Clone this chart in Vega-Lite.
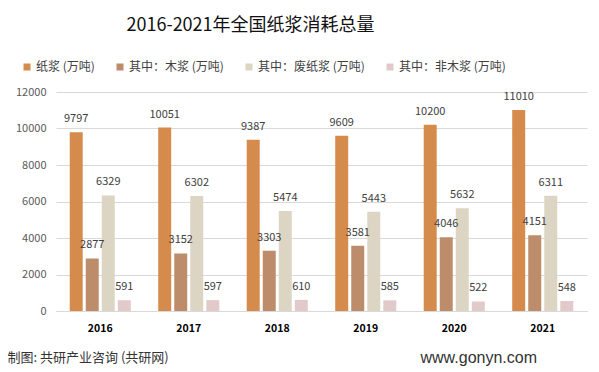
{
  "$schema": "https://vega.github.io/schema/vega-lite/v6.json",
  "autosize": {"type": "none"},
  "width": 531,
  "height": 219,
  "padding": {"left": 56, "top": 92, "right": 12, "bottom": 61},
  "background": "white",
  "title": {
    "text": "2016-2021年全国纸浆消耗总量",
    "anchor": "middle",
    "dx": -71,
    "offset": 26,
    "fontSize": 18,
    "fontWeight": "normal",
    "font": "Noto Sans CJK SC",
    "color": "#111111"
  },
  "config": {
    "view": {"stroke": null},
    "font": "Noto Sans CJK SC",
    "axis": {"labelFont": "Noto Sans CJK SC", "titleFont": "Noto Sans CJK SC"}
  },
  "data": {
    "values": [
      {"year": "2016", "series": "纸浆 (万吨)", "value": 9797},
      {"year": "2016", "series": "其中：木浆 (万吨)", "value": 2877},
      {"year": "2016", "series": "其中：废纸浆 (万吨)", "value": 6329},
      {"year": "2016", "series": "其中：非木浆 (万吨)", "value": 591},
      {"year": "2017", "series": "纸浆 (万吨)", "value": 10051},
      {"year": "2017", "series": "其中：木浆 (万吨)", "value": 3152},
      {"year": "2017", "series": "其中：废纸浆 (万吨)", "value": 6302},
      {"year": "2017", "series": "其中：非木浆 (万吨)", "value": 597},
      {"year": "2018", "series": "纸浆 (万吨)", "value": 9387},
      {"year": "2018", "series": "其中：木浆 (万吨)", "value": 3303},
      {"year": "2018", "series": "其中：废纸浆 (万吨)", "value": 5474},
      {"year": "2018", "series": "其中：非木浆 (万吨)", "value": 610},
      {"year": "2019", "series": "纸浆 (万吨)", "value": 9609},
      {"year": "2019", "series": "其中：木浆 (万吨)", "value": 3581},
      {"year": "2019", "series": "其中：废纸浆 (万吨)", "value": 5443},
      {"year": "2019", "series": "其中：非木浆 (万吨)", "value": 585},
      {"year": "2020", "series": "纸浆 (万吨)", "value": 10200},
      {"year": "2020", "series": "其中：木浆 (万吨)", "value": 4046},
      {"year": "2020", "series": "其中：废纸浆 (万吨)", "value": 5632},
      {"year": "2020", "series": "其中：非木浆 (万吨)", "value": 522},
      {"year": "2021", "series": "纸浆 (万吨)", "value": 11010},
      {"year": "2021", "series": "其中：木浆 (万吨)", "value": 4151},
      {"year": "2021", "series": "其中：废纸浆 (万吨)", "value": 6311},
      {"year": "2021", "series": "其中：非木浆 (万吨)", "value": 548}
    ]
  },
  "encoding": {
    "x": {
      "field": "year",
      "type": "nominal",
      "scale": {"paddingInner": 0.31, "paddingOuter": 0.155},
      "axis": {
        "title": "制图: 共研产业咨询 (共研网)",
        "titleX": -49,
        "titleY": 46,
        "titleAlign": "left",
        "titleAnchor": "start",
        "titleBaseline": "middle",
        "titleFontSize": 13,
        "titleFontWeight": "normal",
        "titleColor": "#333333",
        "labelAngle": 0,
        "labelFontSize": 10.5,
        "labelFontWeight": "bold",
        "labelColor": "#000000",
        "labelPadding": 12,
        "ticks": false,
        "domainColor": "#D9D9D9"
      }
    },
    "xOffset": {
      "field": "series",
      "type": "nominal",
      "sort": ["纸浆 (万吨)", "其中：木浆 (万吨)", "其中：废纸浆 (万吨)", "其中：非木浆 (万吨)"],
      "scale": {"paddingInner": 0.19, "paddingOuter": 0}
    },
    "y": {
      "field": "value",
      "type": "quantitative",
      "scale": {"domain": [0, 12000]},
      "axis": {
        "title": "www.gonyn.com",
        "titleAngle": 0,
        "titleX": 364,
        "titleY": 265,
        "titleAlign": "left",
        "titleBaseline": "middle",
        "titleFontSize": 16,
        "titleFontWeight": "normal",
        "titleColor": "#333333",
        "titleFont": "Liberation Sans",
        "values": [0, 2000, 4000, 6000, 8000, 10000, 12000],
        "format": "d",
        "labelFontSize": 11,
        "labelColor": "#595959",
        "labelPadding": 10,
        "ticks": false,
        "domain": false,
        "gridColor": "#D9D9D9"
      }
    }
  },
  "layer": [
    {
      "mark": {"type": "bar"},
      "encoding": {
        "color": {
          "field": "series",
          "type": "nominal",
          "sort": ["纸浆 (万吨)", "其中：木浆 (万吨)", "其中：废纸浆 (万吨)", "其中：非木浆 (万吨)"],
          "scale": {
            "domain": ["纸浆 (万吨)", "其中：木浆 (万吨)", "其中：废纸浆 (万吨)", "其中：非木浆 (万吨)"],
            "range": ["#D58B4B", "#BC8C6B", "#DDD5C3", "#E3CACA"]
          },
          "legend": {
            "title": null,
            "orient": "none",
            "direction": "horizontal",
            "legendX": -35,
            "legendY": -31,
            "symbolType": "square",
            "symbolSize": 49,
            "symbolStrokeWidth": 0,
            "labelFontSize": 12,
            "labelColor": "#404040",
            "labelOffset": 3,
            "columnPadding": 19,
            "labelLimit": 300
          }
        }
      }
    },
    {
      "mark": {"type": "text", "baseline": "middle", "dy": -13, "fontSize": 11, "color": "#404040"},
      "encoding": {
        "text": {"field": "value", "type": "quantitative", "format": "d"}
      }
    }
  ]
}
